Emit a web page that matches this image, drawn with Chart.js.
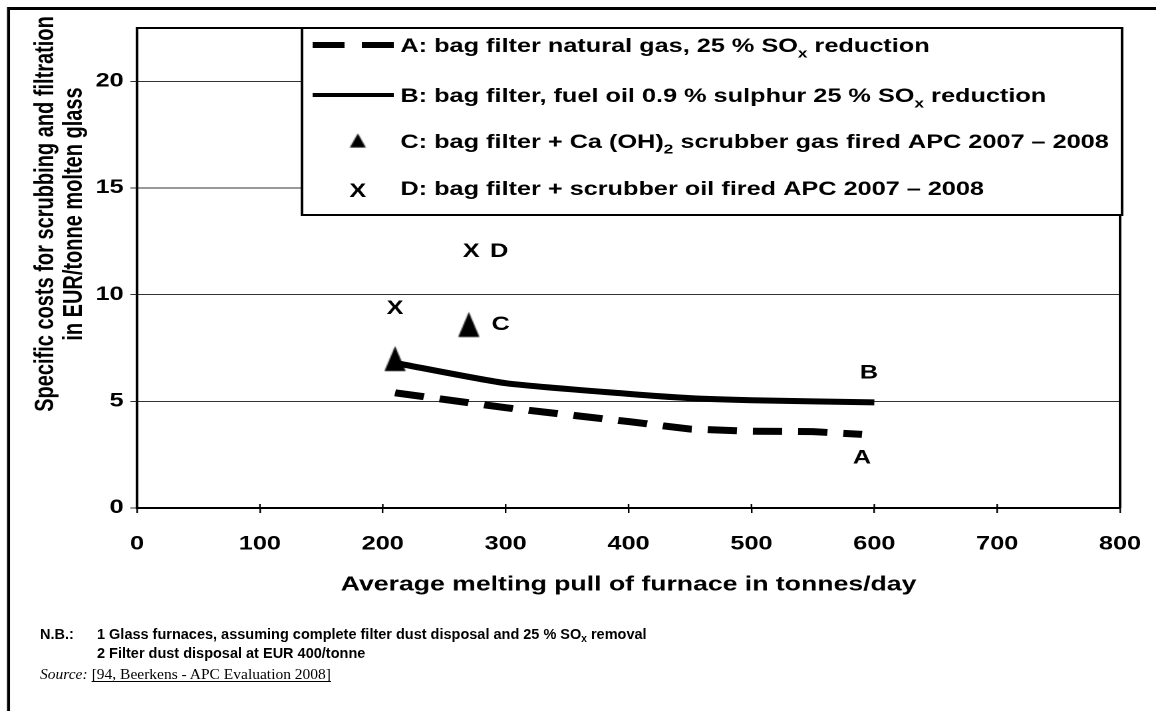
<!DOCTYPE html>
<html>
<head>
<meta charset="utf-8">
<script src="https://cdn.jsdelivr.net/npm/chart.js@4"></script>
<style>
  html, body { margin: 0; padding: 0; background: #fff; }
  #page { position: relative; width: 1156px; height: 711px; overflow: hidden; background: #fff; }
  /* the chart is laid out 869 wide and shown stretched to the page width */
  #costChart { position: absolute; left: 0; top: 0; }
  .row { position: absolute; white-space: nowrap; line-height: 19px; color: #000;
         font: bold 14.5px 'Liberation Sans', Arial, sans-serif; }
  .row sub { font-size: 70%; vertical-align: -3px; line-height: 0; }
  .src { font: 15.5px 'Liberation Serif', 'Times New Roman', serif; }
  .src i { margin-right: 4px; }
  .src u { text-underline-offset: 2px; }
</style>
</head>
<body>
<div id="page">
  <canvas id="costChart" width="869" height="711" style="width:1156px;height:711px"></canvas>
  <div id="notes"></div>
</div>
<script>
const SANS = "'Liberation Sans', Arial, sans-serif";
const STRETCH = 1156 / 869;

// furnace pull (tonnes/day) and specific cost (EUR/tonne glass)
const pullA = [210, 300, 400, 450, 500, 550, 590];
const costA = [5.4, 4.7, 4.05, 3.7, 3.6, 3.58, 3.45];
const pullB = [210, 300, 400, 450, 500, 600];
const costB = [6.8, 5.85, 5.35, 5.15, 5.05, 4.95];
const pullC = [210, 270];
const costC = [7.0, 8.6];
const pullD = [210, 272];
const costD = [9.35, 12.0];

const seriesNames = [
  'A: bag filter natural gas, 25 % SO_{x} reduction',
  'B: bag filter, fuel oil 0.9 % sulphur 25 % SO_{x} reduction',
  'C: bag filter + Ca (OH)_{2} scrubber gas fired APC 2007 \u2013 2008',
  'D: bag filter + scrubber oil fired APC 2007 \u2013 2008'
];

const xMin = 0, xMax = 800, xStep = 100;
const yMin = 0, yMax = 22.5, yStep = 5;

const yTitle = ['Specific costs for scrubbing and filtration', 'in EUR/tonne molten glass'];
const xTitle = 'Average melting pull of furnace in tonnes/day';
const notes = [
  ['N.B.:', '1 Glass furnaces, assuming complete filter dust disposal and 25 % SO_{x} removal'],
  ['', '2 Filter dust disposal at EUR 400/tonne']
];
const sourceRef = '[94, Beerkens - APC Evaluation 2008]';

const pairs = (xs, ys) => xs.map((x, i) => ({ x: x, y: ys[i] }));

// filled triangle used as the C marker
function triangleMarker(w, h) {
  const c = document.createElement('canvas');
  c.width = w; c.height = h;
  const g = c.getContext('2d');
  g.fillStyle = '#000';
  g.beginPath();
  g.moveTo(w / 2, 0.5);
  g.lineTo(w - 0.5, h - 0.5);
  g.lineTo(0.5, h - 0.5);
  g.closePath();
  g.fill();
  return c;
}

const triImg = triangleMarker(17, 26);
const triLegend = triangleMarker(13, 15);

// text with _{..} subscripts
function drawRich(ctx, str, x, y, size) {
  const parts = str.split(/(_\{[^}]*\})/).filter(s => s.length);
  const subSize = Math.round(size * 0.7);
  ctx.textAlign = 'left';
  ctx.textBaseline = 'alphabetic';
  let cx = x;
  parts.forEach(p => {
    const sub = p.startsWith('_{');
    const t = sub ? p.slice(2, -1) : p;
    ctx.font = 'bold ' + (sub ? subSize : size) + 'px ' + SANS;
    ctx.fillText(t, cx, sub ? y + size * 0.3 : y);
    cx += ctx.measureText(t).width;
  });
}

// letters placed next to the ends of the series
const pointTags = [
  { ds: 0, idx: 6, text: 'A', dx: 0, dy: 24 },
  { ds: 1, idx: 5, text: 'B', dx: -4, dy: -29 },
  { ds: 2, idx: 1, text: 'C', dx: 24, dy: 0 },
  { ds: 3, idx: 1, text: 'D', dx: 21, dy: 0 }
];

const decorations = {
  id: 'decorations',
  afterDatasetsDraw(chart) {
    const { ctx, chartArea: a } = chart;
    ctx.save();

    // plot frame top and right
    ctx.strokeStyle = '#000';
    ctx.lineWidth = 2;
    ctx.beginPath();
    ctx.moveTo(a.left, a.top);
    ctx.lineTo(a.right, a.top);
    ctx.lineTo(a.right, a.bottom);
    ctx.stroke();

    // inner half of the x tick marks
    const xs = chart.scales.x;
    ctx.lineWidth = 1.2;
    xs.ticks.forEach(t => {
      const px = xs.getPixelForValue(t.value);
      ctx.beginPath();
      ctx.moveTo(px, a.bottom);
      ctx.lineTo(px, a.bottom - 4);
      ctx.stroke();
    });

    ctx.fillStyle = '#000';
    ctx.font = 'bold 19px ' + SANS;
    ctx.textAlign = 'center';
    ctx.textBaseline = 'middle';

    // D points are drawn as the letter X
    chart.getDatasetMeta(3).data.forEach(el => {
      ctx.fillText('X', el.x, el.y);
    });

    // letters beside the series
    pointTags.forEach(tag => {
      const el = chart.getDatasetMeta(tag.ds).data[tag.idx];
      ctx.fillText(tag.text, el.x + tag.dx, el.y + tag.dy);
    });

    // legend box
    const box = { l: a.left + 124, t: a.top, r: a.right + 1.5, b: 215 };
    ctx.fillStyle = '#fff';
    ctx.fillRect(box.l, box.t, box.r - box.l, box.b - box.t);
    ctx.strokeStyle = '#000';
    ctx.lineWidth = 2;
    ctx.strokeRect(box.l, box.t, box.r - box.l, box.b - box.t);

    const rows = [45, 95, 141, 188];
    const symX = box.l + 42;
    const textX = box.l + 74;
    chart.data.datasets.forEach((ds, i) => {
      const y = rows[i];
      ctx.save();
      ctx.fillStyle = '#000';
      if (ds.showLine) {
        ctx.strokeStyle = '#000';
        ctx.lineWidth = i === 0 ? 6 : 4;
        ctx.setLineDash(i === 0 ? [24, 13] : []);
        ctx.beginPath();
        ctx.moveTo(box.l + 8, y);
        ctx.lineTo(box.l + 69, y);
        ctx.stroke();
      } else if (i === 2) {
        ctx.drawImage(triLegend, symX - 6.5, y - 8);
      } else {
        ctx.font = 'bold 19px ' + SANS;
        ctx.textAlign = 'center';
        ctx.textBaseline = 'middle';
        ctx.fillText('X', symX, y + 4);
      }
      ctx.restore();
      ctx.fillStyle = '#000';
      drawRich(ctx, seriesNames[i], textX, y + 7, 19);
    });

    // y axis title, two rotated lines
    ctx.save();
    ctx.fillStyle = '#000';
    ctx.font = 'bold 20px ' + SANS;
    ctx.textAlign = 'center';
    ctx.textBaseline = 'middle';
    ctx.translate(34.5, 214);
    ctx.rotate(-Math.PI / 2);
    ctx.fillText(yTitle[0], 0, 0);
    ctx.fillText(yTitle[1], 0, 21.5);
    ctx.restore();

    // page frame, top and left
    ctx.strokeStyle = '#000';
    ctx.lineWidth = 3;
    ctx.beginPath();
    ctx.moveTo(8.5 / STRETCH, 8.5);
    ctx.lineTo(chart.width, 8.5);
    ctx.stroke();
    ctx.lineWidth = 3 / STRETCH;
    ctx.beginPath();
    ctx.moveTo(8.5 / STRETCH, 7);
    ctx.lineTo(8.5 / STRETCH, chart.height);
    ctx.stroke();

    ctx.restore();
  }
};

new Chart(document.getElementById('costChart'), {
  type: 'scatter',
  data: {
    datasets: [
      {
        label: seriesNames[0],
        data: pairs(pullA, costA),
        showLine: true,
        borderColor: '#000',
        borderWidth: 7,
        borderDash: [22, 12],
        borderCapStyle: 'butt',
        pointRadius: 0,
        tension: 0
      },
      {
        label: seriesNames[1],
        data: pairs(pullB, costB),
        showLine: true,
        borderColor: '#000',
        borderWidth: 6,
        pointRadius: 0,
        tension: 0.2
      },
      {
        label: seriesNames[2],
        data: pairs(pullC, costC),
        pointStyle: triImg,
        pointRadius: 12
      },
      {
        label: seriesNames[3],
        data: pairs(pullD, costD),
        pointRadius: 0
      }
    ]
  },
  options: {
    responsive: false,
    animation: false,
    devicePixelRatio: 2,
    layout: { padding: { left: 0, top: 28, right: 27, bottom: 103 } },
    plugins: {
      legend: { display: false },
      tooltip: { enabled: false }
    },
    scales: {
      x: {
        type: 'linear',
        min: xMin,
        max: xMax,
        afterFit: s => {
          s.height = 100;
          s.paddingLeft = 0;
          s.paddingRight = 0;
        },
        ticks: {
          stepSize: xStep,
          color: '#000',
          padding: 20,
          font: { family: SANS, size: 19, weight: 'bold' }
        },
        grid: { drawOnChartArea: false, color: '#000', lineWidth: 1.2, tickLength: 5 },
        border: { color: '#000', width: 2 },
        title: {
          display: true,
          text: xTitle,
          color: '#000',
          padding: { top: 0, bottom: 11 },
          font: { family: SANS, size: 20, weight: 'bold' }
        }
      },
      y: {
        min: yMin,
        max: yMax,
        afterFit: s => { s.width = 103; },
        ticks: {
          stepSize: yStep,
          includeBounds: false,
          color: '#000',
          padding: 5,
          font: { family: SANS, size: 19, weight: 'bold' }
        },
        grid: { color: '#333', lineWidth: 1, tickLength: 5 },
        border: { color: '#000', width: 2 }
      }
    }
  },
  plugins: [decorations]
});

// notes and source line under the chart
const rich = s => s.replace(/_\{([^}]*)\}/g, '<sub>$1</sub>');
const notesBox = document.getElementById('notes');
notes.forEach((n, i) => {
  const top = 626 + i * 19;
  if (n[0]) {
    const lead = document.createElement('div');
    lead.className = 'row';
    lead.style.left = '40px';
    lead.style.top = top + 'px';
    lead.textContent = n[0];
    notesBox.appendChild(lead);
  }
  const body = document.createElement('div');
  body.className = 'row';
  body.style.left = '97px';
  body.style.top = top + 'px';
  body.innerHTML = rich(n[1]);
  notesBox.appendChild(body);
});
const src = document.createElement('div');
src.className = 'row src';
src.style.left = '40px';
src.style.top = '665px';
src.innerHTML = '<i>Source:</i><u>' + sourceRef + '</u>';
notesBox.appendChild(src);
</script>
</body>
</html>
